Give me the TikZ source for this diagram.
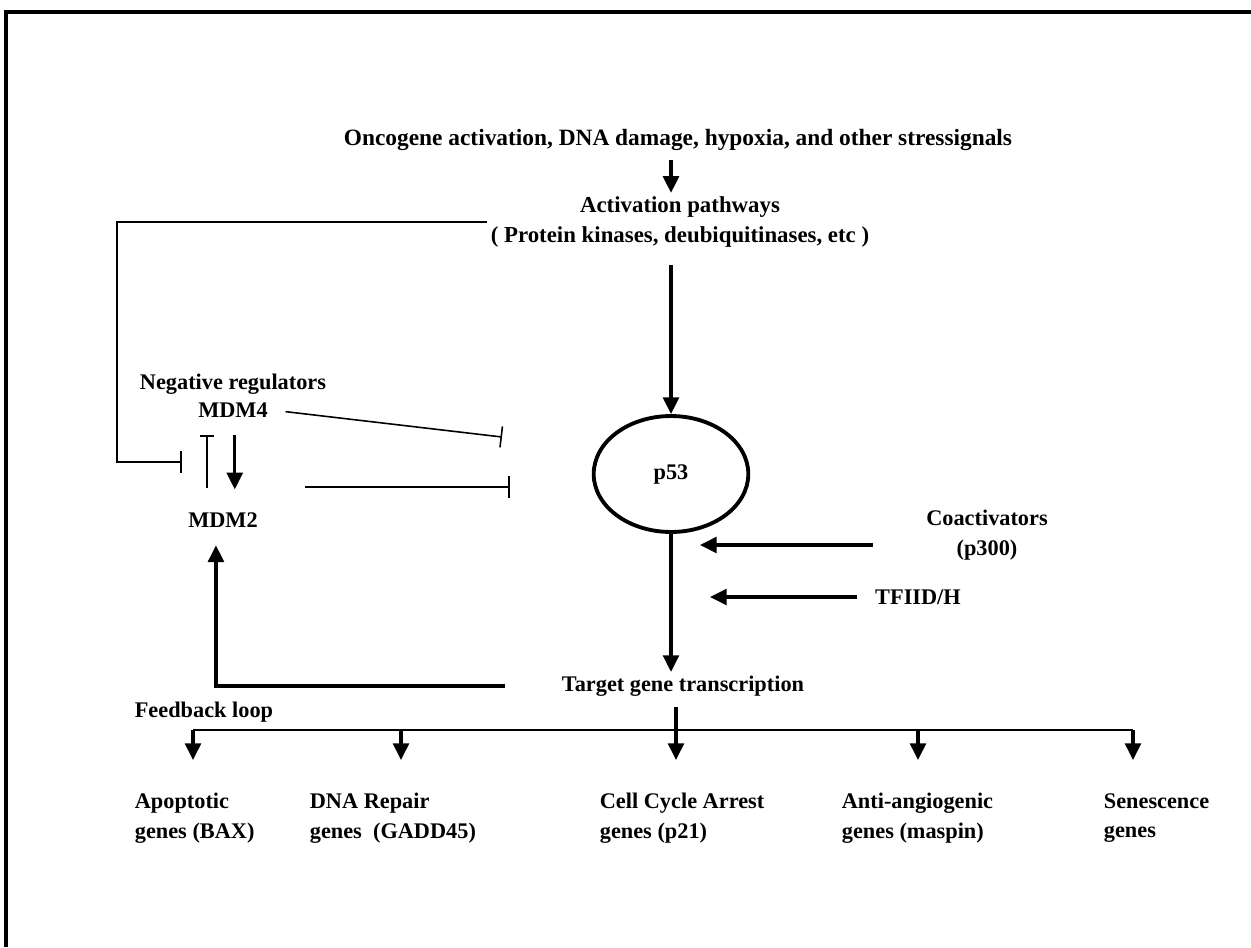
\documentclass[tikz,border=0pt]{standalone}
\usepackage{fontspec}
\setmainfont{Liberation Serif}
\usetikzlibrary{arrows.meta,shapes.geometric,positioning}

\tikzset{
  lbl/.style={font=\fontsize{12.7}{17}\selectfont\bfseries, align=center, inner sep=2pt},
  gene/.style={lbl, align=left, anchor=west},
  act/.style={-{Triangle[length=9.5pt,width=9pt]}, line width=1.9pt},
  inh/.style={-{Bar[width=12pt,line width=0.9pt]}, line width=0.9pt},
  inhsmall/.style={-{Bar[width=8pt,line width=0.9pt]}, line width=0.9pt},
}

\begin{document}
\begin{tikzpicture}[x=0.02cm, y=-0.02cm]
  \useasboundingbox (0,0) rectangle (1251,947);
  % frame
  \draw[line width=2pt] (6,947) -- (6,12) -- (1251,12);

  % Define nodes
  \node[lbl, font=\fontsize{13.3}{17}\selectfont\bfseries] (stress) at (678,140) {Oncogene activation, DNA damage, hypoxia, and other stressignals};
  \node[lbl, font=\fontsize{13}{17}\selectfont\bfseries] (path) at (680,222) {Activation pathways\\( Protein kinases, deubiquitinases, etc )};
  \node[lbl, draw, ellipse, line width=2.2pt, minimum width=88pt, minimum height=66pt] (p53) at (671,474) {p53};
  \node[lbl] (mdm4) at (233,410) {MDM4};
  \node[lbl, above=0pt of mdm4] (neg) {Negative regulators};
  \node[lbl] (mdm2) at (223,520) {MDM2};
  \node[lbl] (coact) at (987,535) {Coactivators\\(p300)};
  \node[lbl] (tfiid) at (918,597) {TFIID/H};
  \node[lbl] (target) at (683,686) {Target gene transcription};
  \node[gene] (fbloop) at (131,712) {Feedback loop};

  \node[gene] (apop) at (131,818) {Apoptotic\\genes (BAX)};
  \node[gene] (dnarep) at (306,818) {DNA Repair\\genes~ (GADD45)};
  \node[gene] (cca) at (596,818) {Cell Cycle Arrest\\genes (p21)};
  \node[gene] (anti) at (838,818) {Anti-angiogenic\\genes (maspin)};
  \node[gene] (sen) at (1100,818) {Senescence\\genes};

  \coordinate (fb) at (182,462);
  \coordinate (m4bar) at (502,437);
  \coordinate (m2bar) at (510,487);
  \coordinate (cotip) at (700,545);
  \coordinate (tftip) at (710,597);
  \coordinate (bus) at (676,730);
  \foreach \x [count=\i] in {193,401,676,918,1133}
    \coordinate (tip\i) at (\x,760);

  % Connect the nodes
  \draw[act, shorten <=3pt] (stress.south -| p53) -- (path.north -| p53);
  \draw[act, shorten <=8pt] (path.south -| p53) -- (p53);
  \draw[inh] (path.west) -- ++(-370,0) |- (fb);
  \draw[inh, shorten <=8pt] (mdm4.east) -- (m4bar);
  \draw[inh, shorten <=25pt] (mdm2.east |- m2bar) -- (m2bar);
  \draw[inhsmall, shorten <=12pt, shorten >=8pt] ([xshift=-9pt]mdm2.north) -- ([xshift=-9pt]mdm2.north |- mdm4.south);
  \draw[act, shorten <=8pt, shorten >=11pt] ([xshift=1pt]mdm4.south) -- ([xshift=1pt]mdm4.south |- mdm2.north);
  \draw[act, shorten <=30pt, shorten >=8pt] (target.west) -| ([xshift=-4pt]mdm2.south);
  \draw[act] (p53.south) -- (p53.south |- target.north);
  \draw[act, shorten <=28pt] (coact.west |- cotip) -- (cotip);
  \draw[act, shorten <=8pt] (tfiid.west) -- (tftip);

  \draw[line width=1.3pt] (tip1 |- bus) -- (tip5 |- bus);
  \draw[act, shorten <=4pt] (target.south -| tip3) -- (tip3);
  \foreach \i in {1,2,4,5}
    \draw[act] (tip\i |- bus) -- (tip\i);
\end{tikzpicture}
\end{document}
